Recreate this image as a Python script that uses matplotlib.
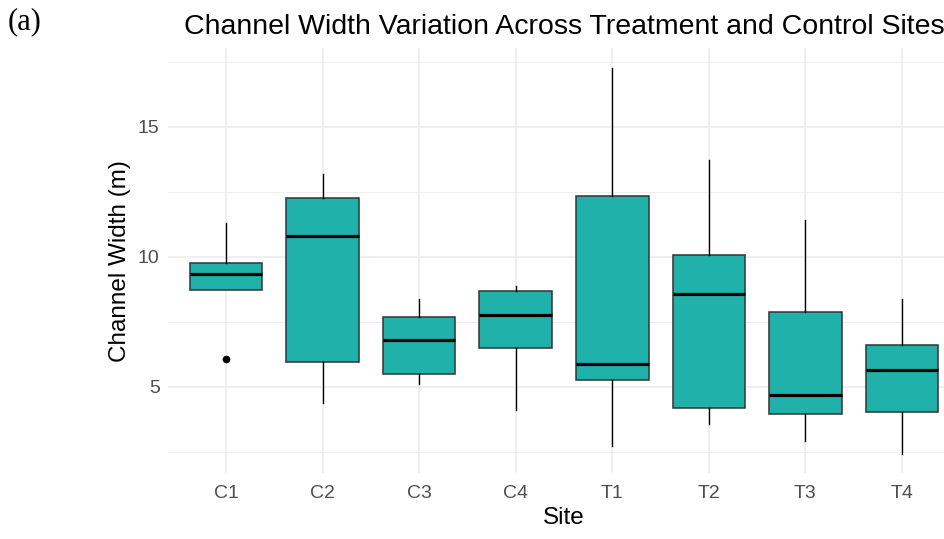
import matplotlib
matplotlib.use("Agg")
import matplotlib.pyplot as plt
from matplotlib.ticker import MultipleLocator

# box summary per site (m)
sites = ["C1", "C2", "C3", "C4", "T1", "T2", "T3", "T4"]
q1 = [8.72, 5.96, 5.49, 6.49, 5.28, 4.18, 3.95, 4.04]
med = [9.34, 10.80, 6.80, 7.76, 5.89, 8.57, 4.68, 5.64]
q3 = [9.76, 12.26, 7.70, 8.70, 12.36, 10.09, 7.88, 6.60]
whis_lo = [8.72, 4.40, 5.13, 4.13, 2.71, 3.59, 2.92, 2.43]
whis_hi = [11.32, 13.19, 8.38, 8.89, 17.27, 13.71, 11.41, 8.38]
outliers = [[6.06], [], [], [], [], [], [], []]

stats = []
for i, s in enumerate(sites):
    stats.append(dict(label=s, q1=q1[i], med=med[i], q3=q3[i],
                      whislo=whis_lo[i], whishi=whis_hi[i], fliers=outliers[i]))

fig = plt.figure(figsize=(9.45, 5.39), dpi=100)
# panel runs slightly past the right edge of the figure
ax = fig.add_axes([168 / 945, 66 / 539, (960 - 168) / 945, (473 - 48.3) / 539])

positions = list(range(1, len(sites) + 1))
ax.bxp(stats, positions=positions, widths=0.75, patch_artist=True,
       boxprops=dict(facecolor="#20B2AA", edgecolor="#333333", linewidth=1.1),
       medianprops=dict(color="black", linewidth=2.3, solid_capstyle="butt"),
       whiskerprops=dict(color="black", linewidth=1.0),
       capprops=dict(linewidth=0),
       flierprops=dict(marker="o", markerfacecolor="black", markeredgecolor="black",
                       markersize=4.5),
       zorder=3)

ax.set_xlim(0.4, 8.6)
ax.set_ylim(1.69, 18.02)
ax.yaxis.set_major_locator(MultipleLocator(5))
ax.yaxis.set_minor_locator(MultipleLocator(2.5))
ax.set_xticks(positions)
ax.set_xticklabels(sites)

for sp in ax.spines.values():
    sp.set_visible(False)
ax.set_axisbelow(True)
ax.grid(which="major", color="#EBEBEB", linewidth=1.1)
ax.grid(which="minor", axis="y", color="#EBEBEB", linewidth=0.6)
ax.tick_params(which="both", length=0)
ax.tick_params(axis="y", labelsize=14, labelcolor="#4D4D4D", pad=6)
ax.tick_params(axis="x", labelsize=14, labelcolor="#4D4D4D", pad=9)
for lbl in ax.get_xticklabels() + ax.get_yticklabels():
    lbl.set_family("Liberation Sans")

ax.set_ylabel("Channel Width (m)", fontsize=17.5, family="Liberation Sans", labelpad=5)
ax.set_xlabel("Site", fontsize=17.5, family="Liberation Sans", labelpad=3)
ax.set_title("Channel Width Variation Across Treatment and Control Sites",
             fontsize=20.5, family="Liberation Sans", pad=10)

fig.text(8 / 945, 1 - 22 / 539, "(a)", fontsize=22, family="Liberation Serif",
         va="center", ha="left")

fig.savefig("out.png", dpi=100)
